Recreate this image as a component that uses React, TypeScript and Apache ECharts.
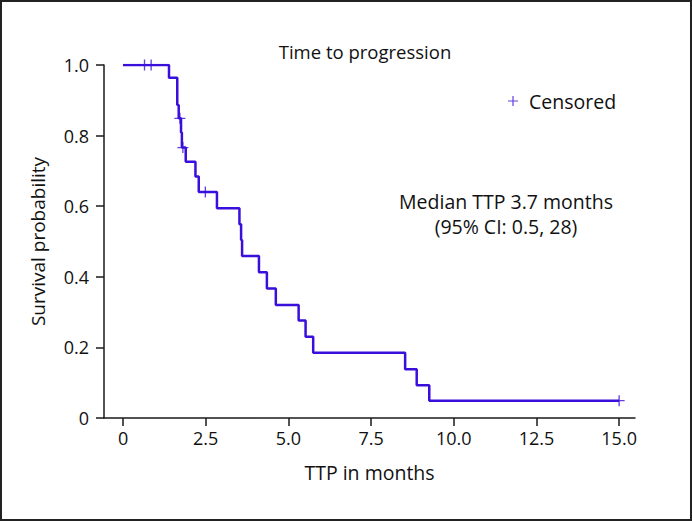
import React, { useEffect, useRef } from "react";
import * as echarts from "echarts";

const kmTime = [0, 1.39, 1.64, 1.684, 1.754, 1.78, 1.896, 2.19, 2.29, 2.84, 3.52, 3.57, 3.6, 4.11, 4.35, 4.62, 5.31, 5.52, 5.75, 8.53, 8.88, 9.26, 15.0];
const kmSurv = [1.0, 0.964, 0.887, 0.849, 0.809, 0.766, 0.726, 0.684, 0.64, 0.594, 0.549, 0.504, 0.459, 0.413, 0.367, 0.32, 0.276, 0.23, 0.185, 0.138, 0.093, 0.049, 0.049];

const censorTime = [0.65, 0.85, 1.72, 1.81, 2.49, 15.0];
const censorSurv = [1.0, 1.0, 0.849, 0.766, 0.64, 0.049];

const xTicks = [0, 2.5, 5, 7.5, 10, 12.5, 15];
const xTickLabels = ["0", "2.5", "5.0", "7.5", "10.0", "12.5", "15.0"];
const yTickLabels: Record<string, string> = { "0": "0", "0.2": "0.2", "0.4": "0.4", "0.6": "0.6", "0.8": "0.8", "1": "1.0" };

const titleText = "Time to progression";
const xAxisName = "TTP in months";
const yAxisName = "Survival probability";
const medianLines = ["Median TTP 3.7 months", "(95% CI: 0.5, 28)"];

const FONT = "Open Sans";
const LINE = "#3a0fdc";
const PLUS = "path://M0,4.4h10v1.2h-10z M4.4,0h1.2v10h-1.2z";

export default function App() {
  const ref = useRef<HTMLDivElement>(null);
  useEffect(() => {
    if (!ref.current) return;
    const chart = echarts.init(ref.current, null, { renderer: "svg" });
    const axisColor = "#1a1a1a";
    chart.setOption({
      animation: false,
      backgroundColor: "#ffffff",
      textStyle: { fontFamily: FONT },
      title: {
        text: titleText,
        left: 360,
        top: 37,
        textAlign: "center",
        textStyle: { fontFamily: FONT, fontSize: 18.5, fontWeight: "normal", color: "#111" },
      },
      legend: {
        data: [{ name: "Censored", icon: PLUS }],
        left: 503,
        top: 86,
        itemWidth: 10,
        itemHeight: 10,
        itemGap: 10,
        textStyle: { fontFamily: FONT, fontSize: 19.5, color: "#111", padding: [0, 0, 0, 6] },
      },
      grid: { left: 104, right: 57, top: 65, bottom: 103, containLabel: false },
      xAxis: {
        type: "value",
        min: -0.575,
        max: 15.48,
        name: xAxisName,
        nameLocation: "middle",
        nameGap: 44,
        nameTextStyle: { fontFamily: FONT, fontSize: 19.5, color: "#111" },
        splitLine: { show: false },
        axisLine: { show: true, onZero: false, lineStyle: { color: axisColor, width: 1.5 } },
        axisTick: { show: true, length: 8, customValues: xTicks, lineStyle: { color: axisColor, width: 1.5 } },
        axisLabel: {
          customValues: xTicks,
          margin: 11,
          fontFamily: FONT,
          fontSize: 18,
          color: "#111",
          formatter: (v: number) => {
            const i = xTicks.indexOf(v);
            return i >= 0 ? xTickLabels[i] : "";
          },
        },
      },
      yAxis: {
        type: "value",
        min: 0,
        max: 1,
        interval: 0.2,
        name: yAxisName,
        nameLocation: "middle",
        nameGap: 57,
        nameTextStyle: { fontFamily: FONT, fontSize: 19, color: "#111" },
        splitLine: { show: false },
        axisLine: { show: true, onZero: false, lineStyle: { color: axisColor, width: 1.5 } },
        axisTick: { show: true, length: 8, lineStyle: { color: axisColor, width: 1.5 } },
        axisLabel: {
          margin: 15,
          fontFamily: FONT,
          fontSize: 18,
          color: "#111",
          formatter: (v: number) => yTickLabels[String(Math.round(v * 10) / 10)] ?? String(v),
        },
      },
      series: [
        {
          name: "KM",
          type: "line",
          step: "end",
          data: kmTime.map((t, i) => [t, kmSurv[i]]),
          showSymbol: false,
          symbol: "none",
          lineStyle: { color: LINE, width: 2.5 },
          itemStyle: { color: LINE },
          z: 2,
        },
        {
          name: "Censored",
          type: "scatter",
          data: censorTime.map((t, i) => [t, censorSurv[i]]),
          symbol: PLUS,
          symbolSize: 11,
          itemStyle: { color: LINE },
          z: 3,
        },
      ],
      graphic: [
        {
          type: "rect",
          shape: { x: 1, y: 1, width: 690, height: 519 },
          style: { fill: "none", stroke: "#222", lineWidth: 2 },
          silent: true,
        },
        {
          type: "text",
          x: 506,
          y: 201,
          style: {
            text: medianLines[0],
            align: "center",
            verticalAlign: "middle",
            fontFamily: FONT,
            fontSize: 19.5,
            fill: "#111",
          },
        },
        {
          type: "text",
          x: 506,
          y: 226,
          style: {
            text: medianLines[1],
            align: "center",
            verticalAlign: "middle",
            fontFamily: FONT,
            fontSize: 19.5,
            fill: "#111",
          },
        },
      ],
    });
    return () => chart.dispose();
  }, []);
  return (
    <div
      ref={ref}
      style={{ position: "fixed", left: 0, top: 0, width: 692, height: 521 }}
    />
  );
}
